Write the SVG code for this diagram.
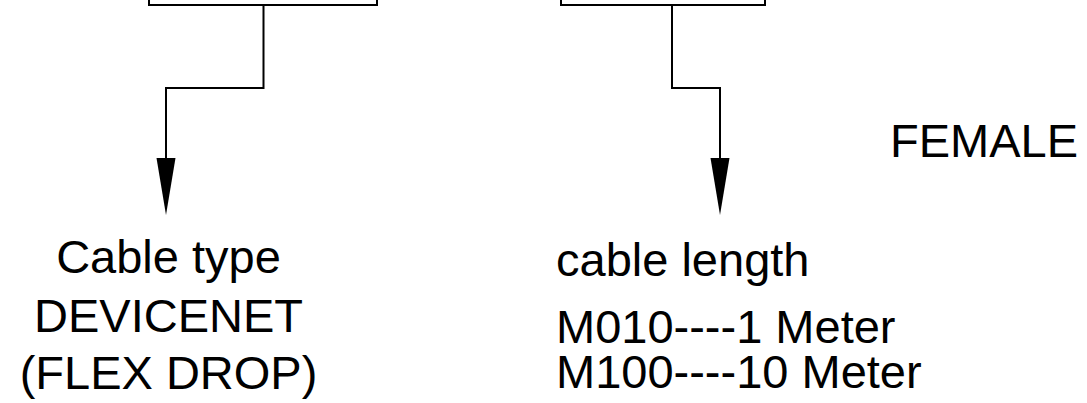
<svg xmlns="http://www.w3.org/2000/svg" width="1087" height="403" viewBox="0 0 1087 403">
<style>
.ln{fill:none;stroke:#000;stroke-width:2}
.ah{fill:#000}
.t{font-family:"Liberation Sans",Arial,sans-serif;font-size:47px;fill:#000}
</style>
<rect width="1087" height="403" fill="#fff"/>
<g id="connectors">
<path class="ln" d="M149,-2 V5 H377 V-2"/>
<path class="ln" d="M263.5,5 V88 H166 V158"/>
<path class="ah" d="M156.5,158 L175.5,158 L166,215 Z"/>
<path class="ln" d="M561,-2 V5 H765 V-2"/>
<path class="ln" d="M672,5 V88 H720 V158"/>
<path class="ah" d="M710.5,158 L729.5,158 L720,215 Z"/>
</g>
<g id="cable-type">
<text class="t" x="168.5" y="273" text-anchor="middle">Cable type</text>
<text class="t" x="168.5" y="332" text-anchor="middle">DEVICENET</text>
<text class="t" x="168.5" y="389" text-anchor="middle">(FLEX DROP)</text>
</g>
<g id="cable-length">
<text class="t" x="556" y="276">cable length</text>
<text class="t" x="556" y="343">M010----1 Meter</text>
<text class="t" x="556" y="388">M100----10 Meter</text>
</g>
<g id="female">
<text class="t" x="890" y="157">FEMALE</text>
</g>
</svg>
